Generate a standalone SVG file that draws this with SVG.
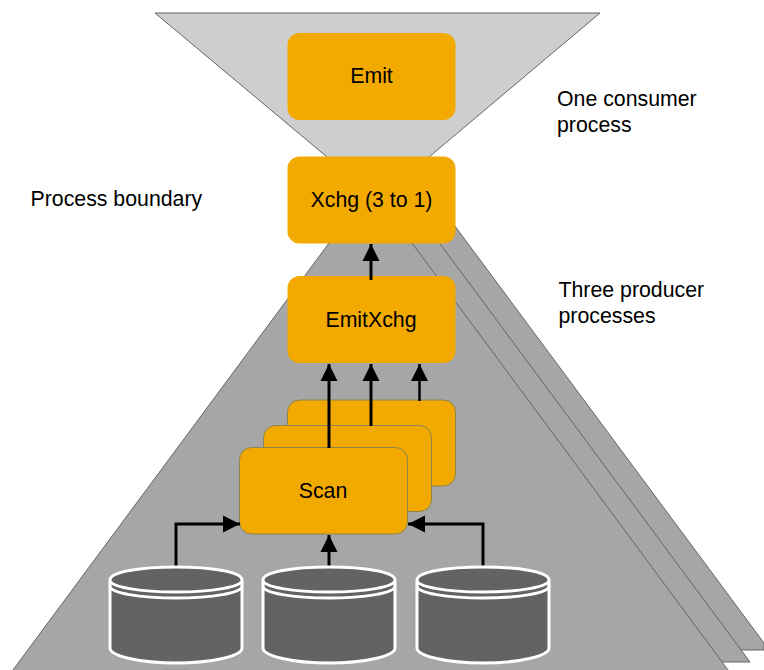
<svg xmlns="http://www.w3.org/2000/svg" width="764" height="670" viewBox="0 0 764 670">
<style>
.tri{fill:#a6a6a6;stroke:#666;stroke-width:1}
.box{fill:#f3aa00}
.edged{stroke:#8c8350;stroke-width:1}
.t{font-family:"Liberation Sans",Arial,sans-serif;font-size:21.300px;fill:#000}
.m{text-anchor:middle}
.c{stroke:#000;stroke-width:3;fill:none}
.db{fill:#636363;stroke:#fff;stroke-width:3}
.dl{fill:none;stroke:#fff;stroke-width:3}
</style>
<defs>
<marker id="a" markerUnits="userSpaceOnUse" markerWidth="18" markerHeight="18" refX="17" refY="9" orient="auto"><path d="M0 0.500L17 9L0 17.500Z" fill="#000"/></marker>
</defs>
<rect width="764" height="670" fill="#fff"/>
<g id="processes">
<polygon id="producer3" class="tri" points="426,187 764,643 764,650 700,650 100,650"/>
<polygon id="producer2" class="tri" points="398,187 750,662 100,662"/>
<polygon id="producer1" class="tri" points="370.5,187 731,674 10,674"/>
<polygon id="consumer" points="155,13 600,13 429,157 429,170 327,170 327,157" fill="#cecece" stroke="#666" stroke-width="1"/>
</g>
<g id="scan3"><rect class="box edged" x="287.500" y="400" width="168" height="86" rx="12"/></g>
<g id="scan2"><rect class="box edged" x="263.500" y="425.500" width="168" height="86" rx="12"/></g>
<g id="scan1"><rect class="box edged" x="239.500" y="447.500" width="168" height="86.500" rx="12"/><text class="t m" x="323" y="497.500">Scan</text></g>
<g id="emit"><rect class="box" x="287.500" y="33" width="168" height="87" rx="12"/><text class="t m" x="371.500" y="82.500">Emit</text></g>
<g id="xchg"><rect class="box" x="287.500" y="156.500" width="168" height="87" rx="12"/><text class="t m" x="371.500" y="206.500">Xchg (3 to 1)</text></g>
<g id="emitxchg"><rect class="box" x="287.500" y="276" width="168" height="87" rx="12"/><text class="t m" x="371" y="326.500">EmitXchg</text></g>
<g id="connectors">
<path class="c" marker-end="url(#a)" d="M371 280V244"/>
<path class="c" marker-end="url(#a)" d="M329 448V364"/>
<path class="c" marker-end="url(#a)" d="M371 426V364"/>
<path class="c" marker-end="url(#a)" d="M419.500 401V364" style="stroke-width:2.500"/>
<path class="c" marker-end="url(#a)" d="M176 568V524H240"/>
<path class="c" marker-end="url(#a)" d="M329 571V535"/>
<path class="c" marker-end="url(#a)" d="M483 568V524H408"/>
</g>
<g id="db1"><path class="db" d="M110 580V648C110 656 140 663 176 663S242 656 242 648V580C242 572 212 567 176 567S110 572 110 580C110 587 140 592 176 592S242 587 242 580"/><path class="dl" d="M110 586C110 593 140 598 176 598S242 593 242 586"/></g>
<g id="db2"><path class="db" d="M263 580V648C263 656 293 663 329 663S395 656 395 648V580C395 572 365 567 329 567S263 572 263 580C263 587 293 592 329 592S395 587 395 580"/><path class="dl" d="M263 586C263 593 293 598 329 598S395 593 395 586"/></g>
<g id="db3"><path class="db" d="M417 580V648C417 656 447 663 483 663S549 656 549 648V580C549 572 519 567 483 567S417 572 417 580C417 587 447 592 483 592S549 587 549 580"/><path class="dl" d="M417 586C417 593 447 598 483 598S549 593 549 586"/></g>
<g id="labels">
<text class="t" x="557" y="106">One consumer</text>
<text class="t" x="557" y="131.500">process</text>
<text class="t" x="30.500" y="206">Process boundary</text>
<text class="t" x="558.500" y="297">Three producer</text>
<text class="t" x="558.500" y="322.500">processes</text>
</g>
</svg>
